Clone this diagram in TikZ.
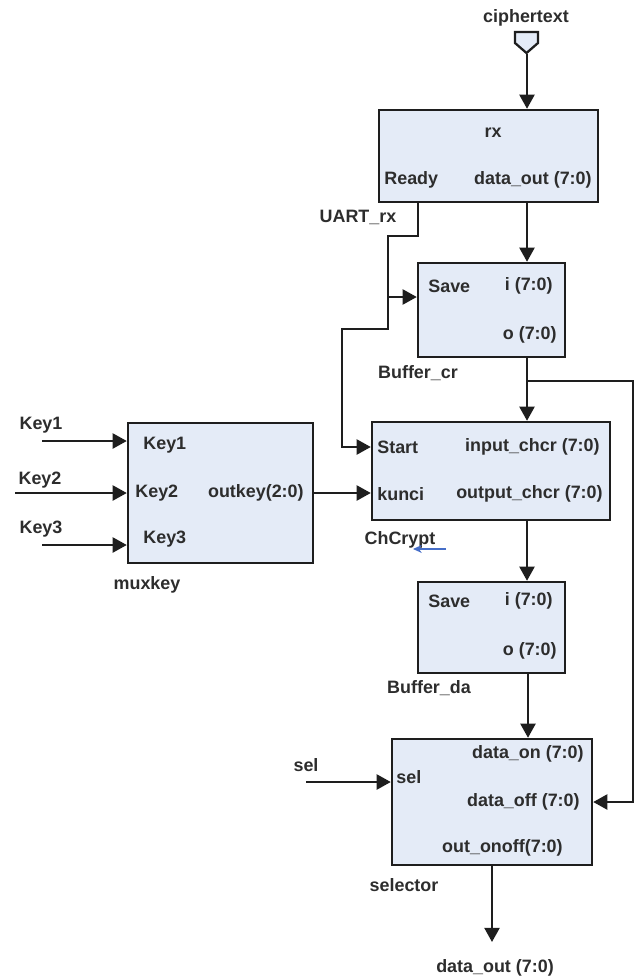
\documentclass[tikz,border=0pt]{standalone}
\usepackage{fontspec}
\setmainfont{Liberation Sans}
\usepackage{tikz}
\usetikzlibrary{arrows.meta,positioning}
\definecolor{boxFill}{RGB}{228,235,247}
\definecolor{edgeGray}{RGB}{30,30,30}
\definecolor{textGray}{RGB}{45,45,45}
\definecolor{hintBlue}{RGB}{70,110,200}
\tikzset{
  blk/.style={draw=edgeGray,fill=boxFill,line width=1.4pt,inner sep=0pt},
  pin/.style={font=\fontsize{10.2}{12}\selectfont\bfseries,text=textGray,inner sep=0pt},
  wire/.style={line width=1.3pt,edgeGray},
  arr/.style={wire,-{Triangle[length=8pt,width=8.5pt]}},
  harr/.style={-{Stealth[length=5pt,width=4.5pt]},semithick,hintBlue},
}
\begin{document}
\begin{tikzpicture}[x=0.02cm,y=-0.02cm]
  \useasboundingbox (0,0) rectangle (637,977);
  % blocks
  \node[blk,minimum width=4.38cm,minimum height=1.84cm] (rx)  at (488.5,156) {};
  \node[blk,minimum width=2.94cm,minimum height=1.88cm] (bcr) at (491.5,310) {};
  \node[blk,minimum width=4.76cm,minimum height=1.96cm] (chc) at (491,471) {};
  \node[blk,minimum width=2.94cm,minimum height=1.82cm] (bda) at (491.5,627.5) {};
  \node[blk,minimum width=4.00cm,minimum height=2.52cm] (slc) at (492,802) {};
  \node[blk,minimum width=3.70cm,minimum height=2.80cm] (mux) at (220.5,493) {};
  \draw[blk,line width=1.3pt] (515,32) -- (538,32) -- (538,43) -- (526.5,53) -- (515,43) -- cycle;
  % port and block names
  \node[pin] (ct)   at (526,18)  {ciphertext};
  \node[pin] (rxn)  at (493,133) {rx};
  \node[pin] (uart) at (358,217) {UART\_rx};
  \node[pin] (bcrn) at (418,373) {Buffer\_cr};
  \node[pin] (chcn) at (400,540) {ChCrypt};
  \node[pin] (bdan) at (429,688) {Buffer\_da};
  \node[pin] (slcn) at (404,885) {selector};
  \node[pin] (muxn) at (147,585) {muxkey};
  \node[pin] (seln) at (306,765) {sel};
  \node[pin] (dout) at (495,968) {data\_out (7:0)};
  \node[pin] (k1n)  at (41,425)  {Key1};
  \node[pin] (k2n)  at (40,480)  {Key2};
  \node[pin] (k3n)  at (41,529)  {Key3};
  % pins
  \node[pin,anchor=west] (rdy)  at (384,180) {Ready};
  \node[pin,anchor=east] (rxo)  at (592,180) {data\_out (7:0)};
  \node[pin,anchor=west] (sv1)  at (428,286) {Save};
  \node[pin,anchor=east] (bci)  at (553,286) {i (7:0)};
  \node[pin,anchor=east] (bco)  at (557,335) {o (7:0)};
  \node[pin,anchor=west] (st)   at (377,447) {Start};
  \node[pin,anchor=east] (chi)  at (600,447) {input\_chcr (7:0)};
  \node[pin,anchor=west] (kun)  at (377,494) {kunci};
  \node[pin,anchor=east] (cho)  at (603,494) {output\_chcr (7:0)};
  \node[pin,anchor=west] (sv2)  at (428,601) {Save};
  \node[pin,anchor=east] (bdi)  at (553,601) {i (7:0)};
  \node[pin,anchor=east] (bdo)  at (557,651) {o (7:0)};
  \node[pin,anchor=east] (don)  at (584,754) {data\_on (7:0)};
  \node[pin,anchor=west] (sp)   at (396,777) {sel};
  \node[pin,anchor=east] (doff) at (580,802) {data\_off (7:0)};
  \node[pin,anchor=east] (oo)   at (563,848) {out\_onoff(7:0)};
  \node[pin,anchor=west] (mk1)  at (143,445) {Key1};
  \node[pin,anchor=west] (mk2)  at (135,493) {Key2};
  \node[pin,anchor=west] (mk3)  at (143,539) {Key3};
  \node[pin,anchor=east] (mko)  at (304,493) {outkey(2:0)};
  % wire ends and bends
  \coordinate (cpin) at (527,54);
  \coordinate (rdyx) at (418,236);
  \coordinate (j1)   at (388,297);
  \coordinate (j2)   at (527,381);
  \coordinate (k1in) at (42,441);
  \coordinate (k2in) at (15,493);
  \coordinate (k3in) at (42,545);
  \coordinate (sin)  at (306,782);
  \coordinate (sout) at (492,942);
  \coordinate (h1)   at (446,549);
  \coordinate (h2)   at (413,549);
  % connectors
  \draw[arr] (cpin) -- (cpin |- rx.north);
  \draw[arr] (rx.south -| cpin) -- (bcr.north -| cpin);
  \draw[wire] (rx.south -| rdyx) -- (rdyx) -| (j1);
  \draw[arr] (j1) -- (bcr.west |- j1);
  \draw[arr] (j1) |- (342,329) |- (chc.west |- st);
  \draw[arr] (bcr.south -| j2) -- (chc.north -| j2);
  \draw[arr] (j2) -- (633,381) |- (slc.east |- 0,802);
  \draw[arr] (mux.east) -- (chc.west |- mux.east);
  \draw[arr] (chc.south -| j2) -- (bda.north -| j2);
  \draw[arr] (bda.south -| 528,0) -- (slc.north -| 528,0);
  \draw[arr] (k1in) -- (mux.west |- k1in);
  \draw[arr] (k2in) -- (mux.west |- k2in);
  \draw[arr] (k3in) -- (mux.west |- k3in);
  \draw[arr] (sin) -- (slc.west |- sin);
  \draw[arr] (slc.south) -- (sout);
  \draw[harr] (h1) -- (h2);
\end{tikzpicture}
\end{document}
